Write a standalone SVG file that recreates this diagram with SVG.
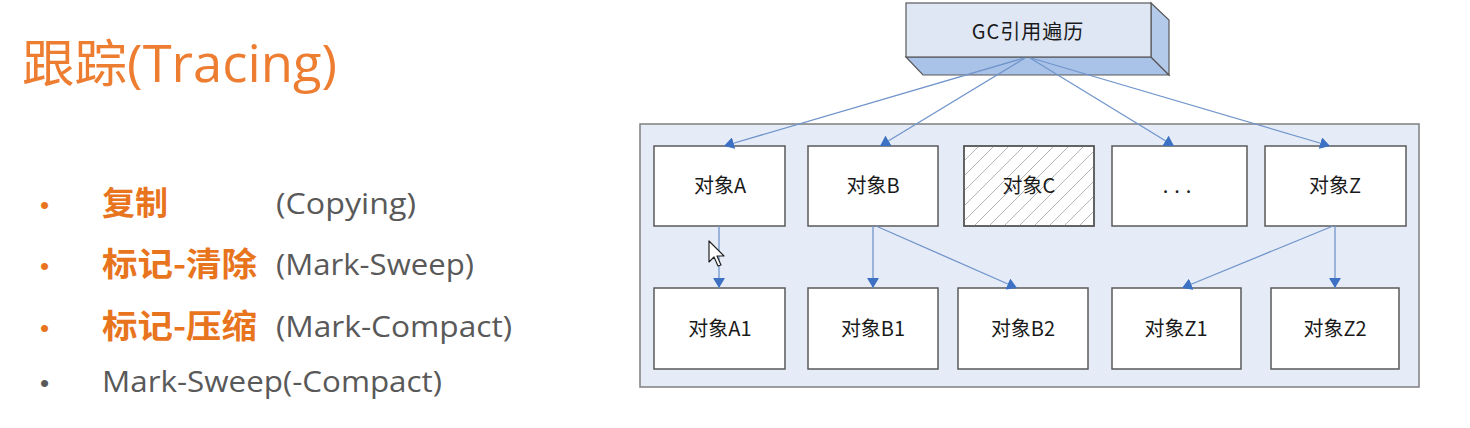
<svg xmlns="http://www.w3.org/2000/svg" width="1470" height="428" viewBox="0 0 1470 428">
<style>
.title{font-family:"Open Sans","Noto Sans CJK SC",sans-serif;font-size:51px;fill:#ED7D31}
.cn{font-family:"Noto Sans CJK SC",sans-serif;font-size:33px;font-weight:bold;fill:#E8741E}
.en{font-family:"Open Sans","Noto Sans CJK SC",sans-serif;font-size:29px;fill:#595959}
.bul{font-family:"Liberation Sans",sans-serif;font-size:26px}
.box{fill:#FFFFFF;stroke:#595959;stroke-width:1.5}
.lbl{font-family:"Noto Sans CJK SC",sans-serif;font-size:20px;fill:#1A1A1A;text-anchor:middle}
.con{stroke:#7195CB;stroke-width:1.3;fill:none;marker-end:url(#arr)}
</style>
<defs>
<marker id="arr" viewBox="0 0 10 12" refX="10" refY="6" markerWidth="10" markerHeight="12" markerUnits="userSpaceOnUse" orient="auto">
<path d="M0,0 L10,6 L0,12 z" fill="#3C71C3"/>
</marker>
<pattern id="hatch" patternUnits="userSpaceOnUse" width="15" height="15">
<path d="M-1,16 L16,-1 M-8,8 L8,-8 M7,23 L23,7" stroke="#ABABAB" stroke-width="0.9"/>
</pattern>
</defs>
<rect width="1470" height="428" fill="#FFFFFF"/>

<g id="left-text">
<text class="title" x="22" y="82" textLength="315" lengthAdjust="spacingAndGlyphs">跟踪(Tracing)</text>
<text class="bul" x="40" y="214" fill="#E8741E">•</text>
<text class="cn" x="102" y="215" textLength="66" lengthAdjust="spacingAndGlyphs">复制</text>
<text class="en" x="276" y="214" textLength="140" lengthAdjust="spacingAndGlyphs">(Copying)</text>
<text class="bul" x="40" y="275" fill="#E8741E">•</text>
<text class="cn" x="102" y="276" textLength="155" lengthAdjust="spacingAndGlyphs">标记-清除</text>
<text class="en" x="276" y="275" textLength="198" lengthAdjust="spacingAndGlyphs">(Mark-Sweep)</text>
<text class="bul" x="40" y="337" fill="#E8741E">•</text>
<text class="cn" x="102" y="338" textLength="155" lengthAdjust="spacingAndGlyphs">标记-压缩</text>
<text class="en" x="276" y="337" textLength="236" lengthAdjust="spacingAndGlyphs">(Mark-Compact)</text>
<text class="bul" x="40" y="392" fill="#595959">•</text>
<text class="en" x="102" y="392" textLength="340" lengthAdjust="spacingAndGlyphs">Mark-Sweep(-Compact)</text>
</g>

<g id="container">
<rect x="640" y="124" width="779" height="263" fill="#E5ECF7" stroke="#7F7F7F" stroke-width="1.5"/>
</g>

<g id="gc">
<polygon points="906,57 1151,57 1169,75 923,75" fill="#A9C2E8" stroke="#595959" stroke-width="1.2"/>
<polygon points="1151,3 1169,20 1169,75 1151,57" fill="#B4CAEB" stroke="#595959" stroke-width="1.2"/>
<rect x="906" y="3" width="245" height="54" fill="#DFE7F5" stroke="#595959" stroke-width="1.2"/>
<text class="lbl" x="1028" y="39" font-size="23" letter-spacing="1">GC引用遍历</text>
</g>

<g id="objA"><rect class="box" x="654" y="146" width="131" height="80"/><text class="lbl" x="720" y="193">对象A</text></g>
<g id="objB"><rect class="box" x="808" y="146" width="130" height="80"/><text class="lbl" x="873" y="193">对象B</text></g>
<g id="objC"><rect class="box" x="964" y="146" width="130" height="80"/><rect x="964" y="146" width="130" height="80" fill="url(#hatch)" stroke="#595959" stroke-width="1.5"/><text class="lbl" x="1029" y="193">对象C</text></g>
<g id="objDots"><rect class="box" x="1112" y="146" width="135" height="80"/><text class="lbl" x="1180" y="193" letter-spacing="6" fill="#555">...</text></g>
<g id="objZ"><rect class="box" x="1265" y="146" width="141" height="80"/><text class="lbl" x="1335" y="193">对象Z</text></g>
<g id="objA1"><rect class="box" x="654" y="288" width="131" height="81"/><text class="lbl" x="720" y="336">对象A1</text></g>
<g id="objB1"><rect class="box" x="808" y="288" width="130" height="81"/><text class="lbl" x="873" y="336">对象B1</text></g>
<g id="objB2"><rect class="box" x="958" y="288" width="130" height="81"/><text class="lbl" x="1023" y="336">对象B2</text></g>
<g id="objZ1"><rect class="box" x="1112" y="288" width="129" height="81"/><text class="lbl" x="1176" y="336">对象Z1</text></g>
<g id="objZ2"><rect class="box" x="1271" y="288" width="128" height="81"/><text class="lbl" x="1335" y="336">对象Z2</text></g>

<g id="connectors">
<line class="con" x1="1024" y1="58" x2="724" y2="146"/>
<line class="con" x1="1025" y1="58" x2="880" y2="146"/>
<line class="con" x1="1030" y1="58" x2="1174" y2="146"/>
<line class="con" x1="1031" y1="58" x2="1330" y2="146"/>
<line class="con" x1="719" y1="226" x2="719" y2="288"/>
<line class="con" x1="873" y1="226" x2="873" y2="288"/>
<line class="con" x1="876" y1="226" x2="1017" y2="288"/>
<line class="con" x1="1333" y1="226" x2="1182" y2="288"/>
<line class="con" x1="1335" y1="226" x2="1335" y2="288"/>
</g>

<g id="cursor">
<polygon points="709,241 709,262 714,257 718,266 721,265 717,256 724,256" fill="#FFFFFF" stroke="#222" stroke-width="1.2" stroke-linejoin="round"/>
</g>
</svg>
